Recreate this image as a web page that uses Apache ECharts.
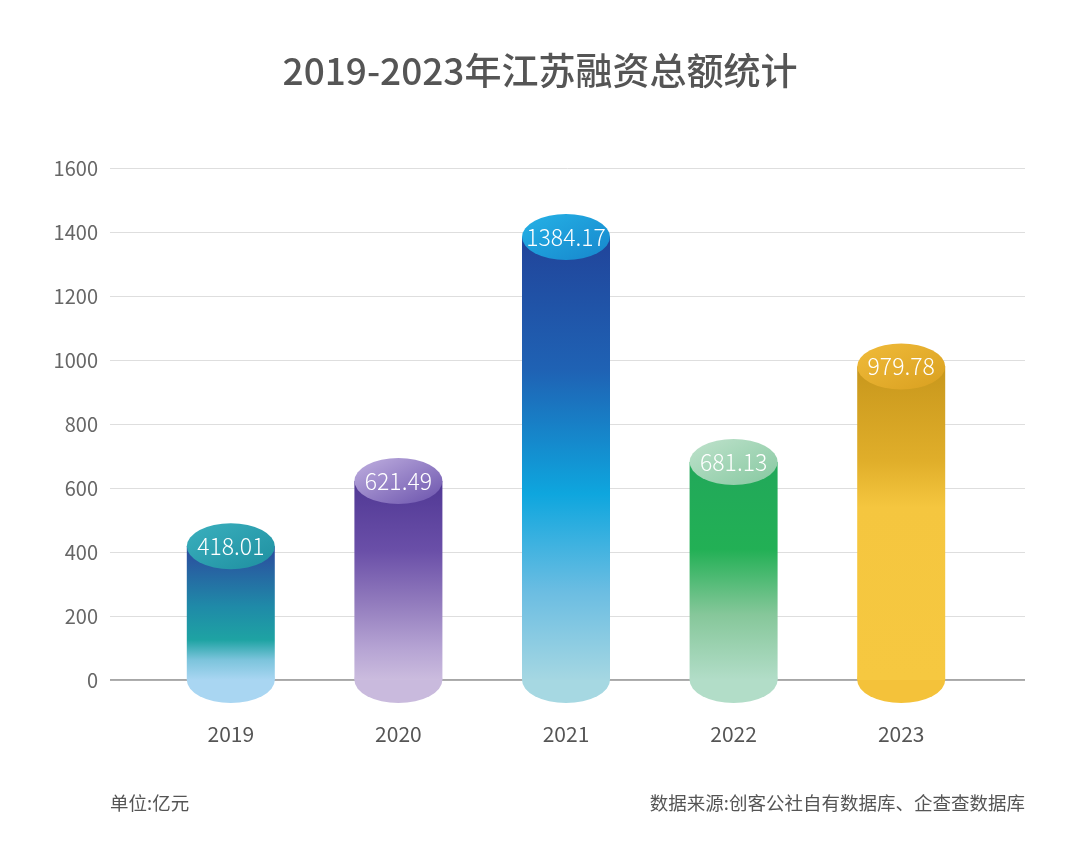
<!DOCTYPE html>
<html><head><meta charset="utf-8">
<script src="https://cdn.jsdelivr.net/npm/echarts@6/dist/echarts.min.js"></script>
<style>html,body{margin:0;padding:0;background:#fff}#c{width:1080px;height:867px}</style>
</head><body><div id="c"></div>
<script>
const categories = ['2019', '2020', '2021', '2022', '2023'];
const values = [418.01, 621.49, 1384.17, 681.13, 979.78];
const yTicks = [0, 200, 400, 600, 800, 1000, 1200, 1400, 1600];

// body gradient stops (top -> bottom), top cap colours, bottom cap colours
const bodyStops = [
  [[0, '#2c4a9e'], [0.45, '#1f8aa8'], [0.7, '#1ea3a3'], [0.85, '#7cc4dc'], [1, '#a9d6f2']],
  [[0, '#503894'], [0.35, '#6a4fa8'], [0.6, '#9079bc'], [0.85, '#b7a5d4'], [1, '#cbbcde']],
  [[0, '#21449a'], [0.3, '#1f62b4'], [0.58, '#0ea6de'], [0.8, '#6bbde2'], [1, '#a5d7e2']],
  [[0, '#22a85a'], [0.4, '#22b055'], [0.7, '#86c79a'], [1, '#b2ddc8']],
  [[0, '#c8971c'], [0.3, '#e0ae2a'], [0.45, '#f5c63f'], [1, '#f6c840']]
];
const topCap = [['#3bb0be', '#1e8fa0'], ['#c0b0e0', '#6a52ac'], ['#25b2e6', '#1686cc'], ['#bfe2cc', '#86c8a0'], ['#f0bb3a', '#d9a020']];
const bottomCap = ['#a9d6f2', '#c9badd', '#a6d8e2', '#b2ddc8', '#f4c23a'];

const G = (stops, x2, y2) => new echarts.graphic.LinearGradient(0, 0, x2, y2, stops.map(s => ({offset: s[0], color: s[1]})));

const chart = echarts.init(document.getElementById('c'));
const font = '"Noto Sans CJK SC", "Noto Sans", sans-serif';
chart.setOption({
  animation: false,
  textStyle: {fontFamily: font},
  title: {
    text: '2019-2023年江苏融资总额统计',
    left: 'center', top: 47,
    textStyle: {fontSize: 37, color: '#555', fontWeight: 500, fontFamily: font}
  },
  graphic: [
    {type: 'text', left: 110, top: 794, style: {text: '单位:亿元', fontSize: 18.5, fill: '#555', fontFamily: font}},
    {type: 'text', right: 55, top: 794, style: {text: '数据来源:创客公社自有数据库、企查查数据库', fontSize: 18.5, fill: '#555', fontFamily: font}}
  ],
  grid: [
    {left: 110, right: 55, top: 168, bottom: 187},
    {left: 147, right: 95, top: 168, bottom: 187}
  ],
  xAxis: [
    {gridIndex: 0, type: 'value', show: false, min: 0, max: 1},
    {gridIndex: 1, type: 'category', data: categories,
     axisLine: {show: false}, axisTick: {show: false},
     axisLabel: {margin: 44, fontSize: 21, color: '#555', fontFamily: font}}
  ],
  yAxis: [
    {gridIndex: 0, type: 'value', min: yTicks[0], max: yTicks[yTicks.length - 1], interval: 200,
     axisLine: {show: false}, axisTick: {show: false},
     axisLabel: {margin: 12, fontSize: 20, color: '#666', fontFamily: font, formatter: v => String(v)},
     splitLine: {lineStyle: {color: '#dedede', width: 1}}},
    {gridIndex: 1, type: 'value', min: yTicks[0], max: yTicks[yTicks.length - 1], interval: 200,
     show: false, splitLine: {show: false}}
  ],
  series: [
    {
      type: 'line', xAxisIndex: 0, yAxisIndex: 0, data: [[0, 0], [1, 0]],
      symbol: 'none', lineStyle: {color: '#8a8a8a', width: 1.5}, z: 1, silent: true
    },
    {
      type: 'scatter', xAxisIndex: 1, yAxisIndex: 1, clip: false,
      symbol: 'circle', symbolSize: [88, 46],
      data: categories.map((c, i) => ({value: [c, 0], itemStyle: {color: bottomCap[i], opacity: 1}})),
      z: 2
    },
    {
      type: 'bar', xAxisIndex: 1, yAxisIndex: 1, barWidth: 88,
      data: values.map((v, i) => ({value: v, itemStyle: {color: G(bodyStops[i], 0, 1)}})),
      z: 3
    },
    {
      type: 'scatter', xAxisIndex: 1, yAxisIndex: 1, clip: false,
      symbol: 'circle', symbolSize: [88, 46],
      data: values.map((v, i) => ({value: [categories[i], v], itemStyle: {opacity: 1, color: G([[0, topCap[i][0]], [1, topCap[i][1]]], 1, 1)}})),
      label: {show: true, position: 'inside', color: '#fff', fontSize: 23, fontWeight: 300, fontFamily: font,
              formatter: p => p.value[1].toFixed(2)},
      z: 5
    }
  ]
});
</script></body></html>
